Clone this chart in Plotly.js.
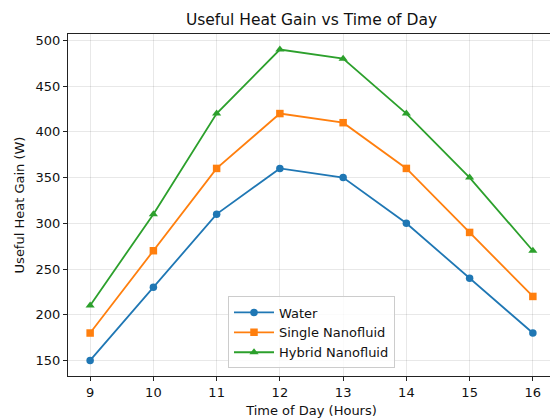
<!DOCTYPE html>
<html><head><meta charset="utf-8">
<script src="https://cdn.plot.ly/plotly-3.0.1.min.js"></script>
<style>body{margin:0;overflow:hidden}#c{width:555px;height:418px}</style>
</head><body><div id="c"></div>
<script>
const hours = [9, 10, 11, 12, 13, 14, 15, 16];
const water = [150, 230, 310, 360, 350, 300, 240, 180];
const singleNano = [180, 270, 360, 420, 410, 360, 290, 220];
const hybridNano = [210, 310, 420, 490, 480, 420, 350, 270];
const names = ["Water", "Single Nanofluid", "Hybrid Nanofluid"];
const colors = ["#1f77b4", "#ff7f0e", "#2ca02c"];
const symbols = ["circle", "square", "triangle-up"];
const series = [water, singleNano, hybridNano];
const font = "DejaVu Sans, sans-serif";
const traces = series.map((s, i) => ({
  x: hours, y: s, name: names[i], type: "scatter", mode: "lines+markers",
  line: {color: colors[i], width: 1.8},
  marker: {symbol: symbols[i], size: i === 2 ? 8 : 7.5, color: colors[i]}
}));
const ax = {
  showline: true, linecolor: "#222", linewidth: 1, mirror: true,
  ticks: "outside", ticklen: 4, tickcolor: "#222",
  showgrid: true, gridcolor: "rgba(0,0,0,0.09)", gridwidth: 1,
  zeroline: false, tickfont: {family: font, size: 13, color: "#111"}
};
Plotly.newPlot("c", traces, {
  width: 555, height: 418,
  margin: {l: 68, r: 0, t: 34, b: 41.5},
  paper_bgcolor: "white", plot_bgcolor: "white",
  font: {family: font, color: "#111"},
  title: {text: "Useful Heat Gain vs Time of Day", font: {family: font, size: 15.5, color: "#111"}, x: 0.5, xref: "paper", y: 0.953, yanchor: "middle"},
  xaxis: Object.assign({}, ax, {range: [8.65, 16.35], tickvals: hours,
    title: {text: "Time of Day (Hours)", font: {family: font, size: 13}, standoff: 9}}),
  yaxis: Object.assign({}, ax, {range: [133, 507], tickvals: [150,200,250,300,350,400,450,500],
    title: {text: "Useful Heat Gain (W)", font: {family: font, size: 13}, standoff: 8}}),
  showlegend: true,
  legend: {x: 0.5, xanchor: "center", y: 0.022, yanchor: "bottom",
    bgcolor: "rgba(255,255,255,0.8)", bordercolor: "#ccc", borderwidth: 1,
    font: {family: font, size: 13, color: "#111"}, tracegroupgap: 0, itemwidth: 40}
}, {displayModeBar: false, staticPlot: true});
</script></body></html>
